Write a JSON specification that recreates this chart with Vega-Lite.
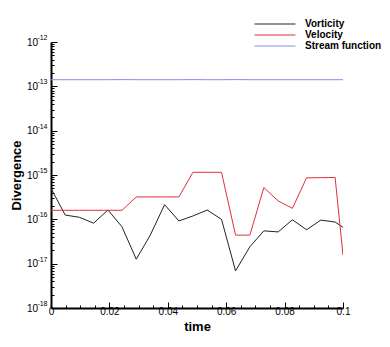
{
  "$schema": "https://vega.github.io/schema/vega-lite/v6.json",
  "autosize": "none",
  "width": 292,
  "height": 266,
  "padding": {"left": 51, "top": 42, "right": 47, "bottom": 39},
  "background": "white",
  "config": {
    "view": {"stroke": null},
    "font": "Liberation Sans"
  },
  "data": {
    "values": [
      {"t": 0, "series": "Vorticity", "v": 5.0e-16},
      {"t": 0.00486, "series": "Vorticity", "v": 1.25e-16},
      {"t": 0.00973, "series": "Vorticity", "v": 1.11e-16},
      {"t": 0.0146, "series": "Vorticity", "v": 8.2e-17},
      {"t": 0.0195, "series": "Vorticity", "v": 1.62e-16},
      {"t": 0.0243, "series": "Vorticity", "v": 6.8e-17},
      {"t": 0.0292, "series": "Vorticity", "v": 1.26e-17},
      {"t": 0.0340, "series": "Vorticity", "v": 4.4e-17},
      {"t": 0.0389, "series": "Vorticity", "v": 2.14e-16},
      {"t": 0.0438, "series": "Vorticity", "v": 9.2e-17},
      {"t": 0.0486, "series": "Vorticity", "v": 1.19e-16},
      {"t": 0.0535, "series": "Vorticity", "v": 1.62e-16},
      {"t": 0.0584, "series": "Vorticity", "v": 1.0e-16},
      {"t": 0.0632, "series": "Vorticity", "v": 6.9e-18},
      {"t": 0.0681, "series": "Vorticity", "v": 2.4e-17},
      {"t": 0.0729, "series": "Vorticity", "v": 5.5e-17},
      {"t": 0.0778, "series": "Vorticity", "v": 5.2e-17},
      {"t": 0.0827, "series": "Vorticity", "v": 9.8e-17},
      {"t": 0.0875, "series": "Vorticity", "v": 5.8e-17},
      {"t": 0.0924, "series": "Vorticity", "v": 9.6e-17},
      {"t": 0.0973, "series": "Vorticity", "v": 8.7e-17},
      {"t": 0.1, "series": "Vorticity", "v": 6.6e-17},
      {"t": 0, "series": "Velocity", "v": 1.6e-16},
      {"t": 0.00486, "series": "Velocity", "v": 1.6e-16},
      {"t": 0.00973, "series": "Velocity", "v": 1.6e-16},
      {"t": 0.0146, "series": "Velocity", "v": 1.6e-16},
      {"t": 0.0195, "series": "Velocity", "v": 1.6e-16},
      {"t": 0.0243, "series": "Velocity", "v": 1.6e-16},
      {"t": 0.0292, "series": "Velocity", "v": 3.2e-16},
      {"t": 0.0340, "series": "Velocity", "v": 3.2e-16},
      {"t": 0.0389, "series": "Velocity", "v": 3.2e-16},
      {"t": 0.0438, "series": "Velocity", "v": 3.2e-16},
      {"t": 0.0486, "series": "Velocity", "v": 1.15e-15},
      {"t": 0.0535, "series": "Velocity", "v": 1.15e-15},
      {"t": 0.0584, "series": "Velocity", "v": 1.15e-15},
      {"t": 0.0632, "series": "Velocity", "v": 4.4e-17},
      {"t": 0.0681, "series": "Velocity", "v": 4.4e-17},
      {"t": 0.0729, "series": "Velocity", "v": 5.2e-16},
      {"t": 0.0778, "series": "Velocity", "v": 2.6e-16},
      {"t": 0.0827, "series": "Velocity", "v": 1.77e-16},
      {"t": 0.0875, "series": "Velocity", "v": 8.6e-16},
      {"t": 0.0924, "series": "Velocity", "v": 8.7e-16},
      {"t": 0.0973, "series": "Velocity", "v": 8.8e-16},
      {"t": 0.1, "series": "Velocity", "v": 1.55e-17},
      {"t": 0, "series": "Stream function", "v": 1.41e-13},
      {"t": 0.00486, "series": "Stream function", "v": 1.41e-13},
      {"t": 0.00973, "series": "Stream function", "v": 1.41e-13},
      {"t": 0.0146, "series": "Stream function", "v": 1.41e-13},
      {"t": 0.0195, "series": "Stream function", "v": 1.41e-13},
      {"t": 0.0243, "series": "Stream function", "v": 1.42e-13},
      {"t": 0.0292, "series": "Stream function", "v": 1.41e-13},
      {"t": 0.0340, "series": "Stream function", "v": 1.41e-13},
      {"t": 0.0389, "series": "Stream function", "v": 1.41e-13},
      {"t": 0.0438, "series": "Stream function", "v": 1.41e-13},
      {"t": 0.0486, "series": "Stream function", "v": 1.42e-13},
      {"t": 0.0535, "series": "Stream function", "v": 1.41e-13},
      {"t": 0.0584, "series": "Stream function", "v": 1.41e-13},
      {"t": 0.0632, "series": "Stream function", "v": 1.42e-13},
      {"t": 0.0681, "series": "Stream function", "v": 1.41e-13},
      {"t": 0.0729, "series": "Stream function", "v": 1.41e-13},
      {"t": 0.0778, "series": "Stream function", "v": 1.41e-13},
      {"t": 0.0827, "series": "Stream function", "v": 1.41e-13},
      {"t": 0.0875, "series": "Stream function", "v": 1.41e-13},
      {"t": 0.0924, "series": "Stream function", "v": 1.41e-13},
      {"t": 0.0973, "series": "Stream function", "v": 1.41e-13},
      {"t": 0.1, "series": "Stream function", "v": 1.41e-13}
    ]
  },
  "encoding": {
    "x": {
      "field": "t",
      "type": "quantitative",
      "scale": {"domain": [0, 0.1], "nice": false, "zero": false},
      "axis": {
        "title": "time",
        "titleFont": "Liberation Sans",
        "titleFontSize": 13,
        "titleFontWeight": "bold",
        "titleColor": "black",
        "titlePadding": 1,
        "values": [0, 0.005, 0.01, 0.015, 0.02, 0.025, 0.03, 0.035, 0.04, 0.045, 0.05, 0.055, 0.06, 0.065, 0.07, 0.075, 0.08, 0.085, 0.09, 0.095, 0.1],
        "labelExpr": "abs(datum.value*50 - round(datum.value*50)) < 0.001 ? (datum.value == 0 ? '0' : format(datum.value, '.2~f')) : ''",
        "labelFontSize": 10,
        "labelColor": "black",
        "labelPadding": 4,
        "labelFlush": false,
        "labelOverlap": false,
        "tickSize": {"condition": {"test": "abs(datum.value*50 - round(datum.value*50)) < 0.001", "value": -6}, "value": -3},
        "tickColor": "black",
        "tickWidth": 1,
        "domainColor": "black",
        "domainWidth": 2,
        "grid": false
      }
    }
  },
  "layer": [
    {
      "mark": {"type": "line", "strokeWidth": 1, "clip": true},
      "encoding": {
        "y": {
          "field": "v",
          "type": "quantitative",
          "scale": {"type": "log", "domain": [1e-18, 1e-12], "nice": false},
          "axis": {
            "orient": "left",
            "title": "Divergence",
            "titleFont": "Liberation Sans",
            "titleFontSize": 13,
            "titleFontWeight": "bold",
            "titleColor": "black",
            "titlePadding": 3,
            "values": [1e-18, 2e-18, 3e-18, 4e-18, 5e-18, 6e-18, 7e-18, 8e-18, 9e-18,
                       1e-17, 2e-17, 3e-17, 4e-17, 5e-17, 6e-17, 7e-17, 8e-17, 9e-17,
                       1e-16, 2e-16, 3e-16, 4e-16, 5e-16, 6e-16, 7e-16, 8e-16, 9e-16,
                       1e-15, 2e-15, 3e-15, 4e-15, 5e-15, 6e-15, 7e-15, 8e-15, 9e-15,
                       1e-14, 2e-14, 3e-14, 4e-14, 5e-14, 6e-14, 7e-14, 8e-14, 9e-14,
                       1e-13, 2e-13, 3e-13, 4e-13, 5e-13, 6e-13, 7e-13, 8e-13, 9e-13,
                       1e-12],
            "labelExpr": "abs(log(datum.value)/LN10 - round(log(datum.value)/LN10)) < 0.001 ? '10' : ''",
            "labelFontSize": 10,
            "labelColor": "black",
            "labelPadding": 19.5,
            "labelFlush": false,
            "labelOverlap": false,
            "tickSize": {"condition": {"test": "abs(log(datum.value)/LN10 - round(log(datum.value)/LN10)) < 0.001", "value": -6}, "value": -3},
            "tickColor": "black",
            "tickWidth": 1,
            "domainColor": "black",
            "domainWidth": 2,
            "grid": false
          }
        },
        "color": {
          "field": "series",
          "type": "nominal",
          "scale": {"domain": ["Vorticity", "Velocity", "Stream function"], "range": ["#222222", "#e0303a", "#8a8aee"]},
          "sort": ["Vorticity", "Velocity", "Stream function"],
          "legend": {
            "orient": "none",
            "legendX": 218,
            "legendY": -24,
            "title": null,
            "symbolType": "M-4,0H4",
            "symbolSize": 105,
            "symbolStrokeWidth": 1,
            "symbolFillColor": "transparent",
            "labelFont": "Liberation Sans",
            "labelFontSize": 10,
            "labelFontWeight": "bold",
            "labelColor": "black",
            "labelOffset": 24,
            "rowPadding": 0,
            "padding": 0
          }
        }
      }
    },
    {
      "mark": {"type": "line", "strokeWidth": 1, "strokeOpacity": 0, "clip": true},
      "encoding": {
        "detail": {"field": "series", "type": "nominal"},
        "y": {
          "field": "v",
          "type": "quantitative",
          "axis": {
            "orient": "left",
            "title": null,
            "values": [1e-18, 1e-17, 1e-16, 1e-15, 1e-14, 1e-13, 1e-12],
            "labelExpr": "toString(round(log(datum.value)/LN10))",
            "labelFont": "Liberation Sans",
            "labelFontSize": 7,
            "labelColor": "black",
            "labelPadding": 4,
            "labelOffset": -4.5,
            "labelFlush": false,
            "labelOverlap": false,
            "ticks": false,
            "domain": false,
            "grid": false
          }
        }
      }
    }
  ],
  "resolve": {"axis": {"y": "independent"}}
}
